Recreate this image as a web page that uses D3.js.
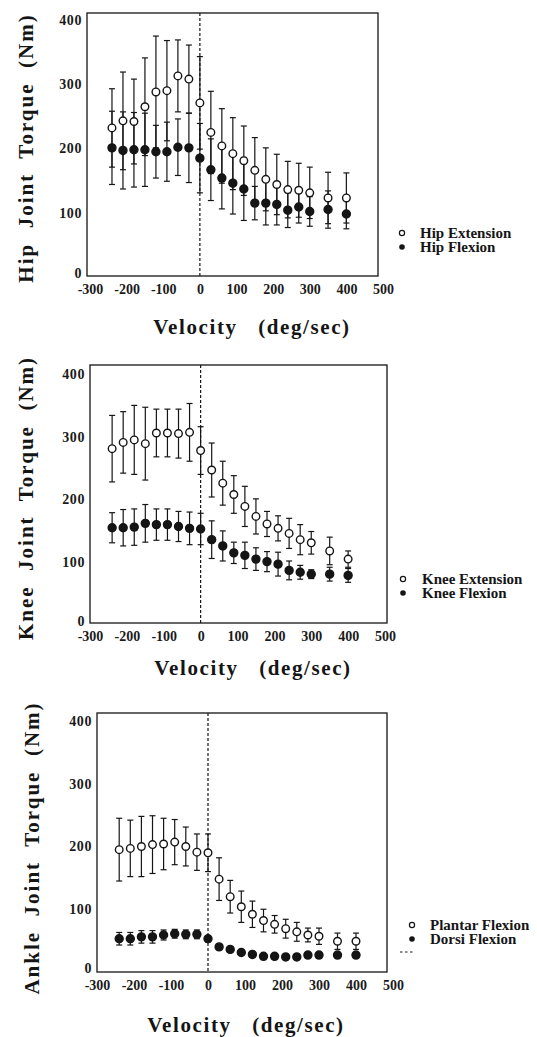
<!DOCTYPE html>
<html><head><meta charset="utf-8">
<script src="https://cdn.jsdelivr.net/npm/d3@7/dist/d3.min.js"></script>
<style>
body{margin:0;background:#fff;}
svg{display:block;}
.tick text{font-family:"Liberation Serif","DejaVu Serif",serif;font-weight:bold;font-size:14px;fill:#1a1a1a;}
.yax .tick text{letter-spacing:0.6px;}
</style></head>
<body>
<svg id="c" width="537" height="1037"></svg>
<script>
const velocities = [-240,-210,-180,-150,-120,-90,-60,-30,0,30,60,90,120,150,180,210,240,270,300,350,400];
const xTicks = [-300,-200,-100,0,100,200,300,400,500];
const xTickLabels = ["-300","-200","-100","0","100","200","300","400","500"];
const yTicks = [0,100,200,300,400];

const hipExtMean = [232,243,242,265,288,290,313,308,271,225,204,192,181,166,152,144,136,135,131,123,123];
const hipExtSD   = [61,76,66,76,87,78,56,53,72,64,58,56,54,51,49,47,44,42,40,40,39];
const hipFlexMean= [201,197,198,198,195,195,202,201,185,167,154,146,137,115,115,113,104,109,102,105,98];
const hipFlexSD  = [57,60,58,57,41,46,44,54,54,48,48,48,49,26,34,32,27,25,23,29,23];

const kneeExtMean = [281,291,295,289,306,306,305,307,278,247,226,208,189,173,161,154,146,136,131,118,105];
const kneeExtSD   = [53,49,55,58,38,38,39,46,38,43,35,30,32,28,20,20,24,24,18,22,13];
const kneeFlexMean= [155,155,156,162,160,160,157,154,153,136,126,115,111,105,101,97,87,84,81,81,79];
const kneeFlexSD  = [24,29,29,30,25,25,24,26,25,30,24,17,21,18,16,19,15,11,7,11,11];

const ankleExtMean = [195,197,200,203,204,207,200,191,190,148,120,104,92,82,76,69,64,59,57,49,49];
const ankleExtSD   = [50,45,48,46,41,36,31,29,30,34,26,25,21,18,14,15,15,11,13,13,13];
const ankleFlexMean= [53,53,56,56,59,61,60,60,53,40,36,31,28,25,25,24,24,27,27,27,27];
const ankleFlexSD  = [10,10,10,10,8,7,7,7,5,3,3,3,3,3,3,3,3,3,3,3,3];

const yLabels = ["Hip  Joint  Torque  (Nm)","Knee  Joint  Torque  (Nm)","Ankle  Joint  Torque  (Nm)"];
const legendOpen = ["Hip Extension","Knee Extension","Plantar Flexion"];
const legendFilled = ["Hip Flexion","Knee Flexion","Dorsi Flexion"];
const xTitle = "Velocity   (deg/sec)";

const panels = [
  {ext:hipExtMean, extSD:hipExtSD, flex:hipFlexMean, flexSD:hipFlexSD,
   frame:[87,13,378,276], xr:[90,383], yr:[277,20], ylabX:28, ylabY:148, xtX:252, xtY:334, leg:[402,233,420], dash:false},
  {ext:kneeExtMean, extSD:kneeExtSD, flex:kneeFlexMean, flexSD:kneeFlexSD,
   frame:[90,365,387,623], xr:[90,385], yr:[625,374], ylabX:28, ylabY:498, xtX:253, xtY:675, leg:[403,579,422], dash:false},
  {ext:ankleExtMean, extSD:ankleExtSD, flex:ankleFlexMean, flexSD:ankleFlexSD,
   frame:[97,713,387,972], xr:[97,393], yr:[972,721], ylabX:34, ylabY:848, xtX:246, xtY:1032, leg:[412,925,430], dash:true}
];

const svg = d3.select("#c");
const ink = "#151515";
const serif = '"Liberation Serif","DejaVu Serif",serif';

panels.forEach((p,i)=>{
  const g = svg.append("g");
  const x = d3.scaleLinear().domain([-300,500]).range(p.xr);
  const y = d3.scaleLinear().domain([0,400]).range(p.yr);
  const [fl,ft,fr,fb] = p.frame;

  g.append("rect").attr("x",fl).attr("y",ft).attr("width",fr-fl).attr("height",fb-ft)
    .attr("fill","none").attr("stroke",ink).attr("stroke-width",1.3);

  g.append("line").attr("x1",x(0)).attr("x2",x(0)).attr("y1",ft).attr("y2",fb)
    .attr("stroke",ink).attr("stroke-width",1.2).attr("stroke-dasharray","3,2");

  const xa = g.append("g").attr("transform",`translate(0,${fb})`)
    .call(d3.axisBottom(x).tickValues(xTicks).tickSize(0).tickPadding(8)
      .tickFormat((d,j)=>xTickLabels[j]));
  xa.select(".domain").remove();

  const ya = g.append("g").attr("class","yax").attr("transform",`translate(${fl},0)`)
    .call(d3.axisLeft(y).tickValues(yTicks).tickSize(0).tickPadding(5));
  ya.select(".domain").remove();
  ya.selectAll(".tick").filter(d=>d===0).select("text").attr("dy","0.05em");

  const series = [
    {m:p.flex, sd:p.flexSD, filled:true},
    {m:p.ext, sd:p.extSD, filled:false}
  ];
  series.forEach(s=>{
    const eb = g.append("g");
    velocities.forEach((v,k)=>{
      const cx = x(v), y1 = y(s.m[k]-s.sd[k]), y2 = y(s.m[k]+s.sd[k]);
      eb.append("line").attr("x1",cx).attr("x2",cx).attr("y1",y1).attr("y2",y2)
        .attr("stroke",ink).attr("stroke-width",1.2);
      [y1,y2].forEach(yy=>eb.append("line").attr("x1",cx-3).attr("x2",cx+3)
        .attr("y1",yy).attr("y2",yy).attr("stroke",ink).attr("stroke-width",1.2));
    });
  });
  series.forEach(s=>{
    g.append("g").selectAll("circle").data(velocities).join("circle")
      .attr("cx",v=>x(v)).attr("cy",(v,k)=>y(s.m[k]))
      .attr("r",s.filled?4:3.8)
      .attr("fill",s.filled?ink:"#fff").attr("stroke",ink).attr("stroke-width",1.4);
  });

  g.append("text").attr("transform",`translate(${p.ylabX},${p.ylabY}) rotate(-90)`)
    .attr("text-anchor","middle").attr("dominant-baseline","middle")
    .style("font-family",serif).style("font-weight","bold").style("font-size","21px")
    .style("letter-spacing","2px").style("white-space","pre").attr("fill",ink)
    .text(yLabels[i]);

  g.append("text").attr("x",p.xtX).attr("y",p.xtY).attr("text-anchor","middle")
    .style("font-family",serif).style("font-weight","bold").style("font-size","21px")
    .style("letter-spacing","1.6px").style("white-space","pre").attr("fill",ink)
    .text(xTitle);

  const [lx,ly,tx] = p.leg;
  g.append("circle").attr("cx",lx).attr("cy",ly).attr("r",2.6).attr("fill","#fff").attr("stroke",ink).attr("stroke-width",1.2);
  g.append("circle").attr("cx",lx).attr("cy",ly+14).attr("r",2.8).attr("fill",ink);
  g.append("text").attr("x",tx).attr("y",ly+5).style("font-family",serif).style("font-weight","bold")
    .style("font-size","15px").attr("fill",ink).text(legendOpen[i]);
  g.append("text").attr("x",tx).attr("y",ly+19).style("font-family",serif).style("font-weight","bold")
    .style("font-size","15px").attr("fill",ink).text(legendFilled[i]);
  if(p.dash){
    g.append("line").attr("x1",lx-12).attr("x2",lx+3).attr("y1",ly+27).attr("y2",ly+27)
      .attr("stroke",ink).attr("stroke-width",1).attr("stroke-dasharray","2.5,2.5");
  }
});
</script>
</body></html>
